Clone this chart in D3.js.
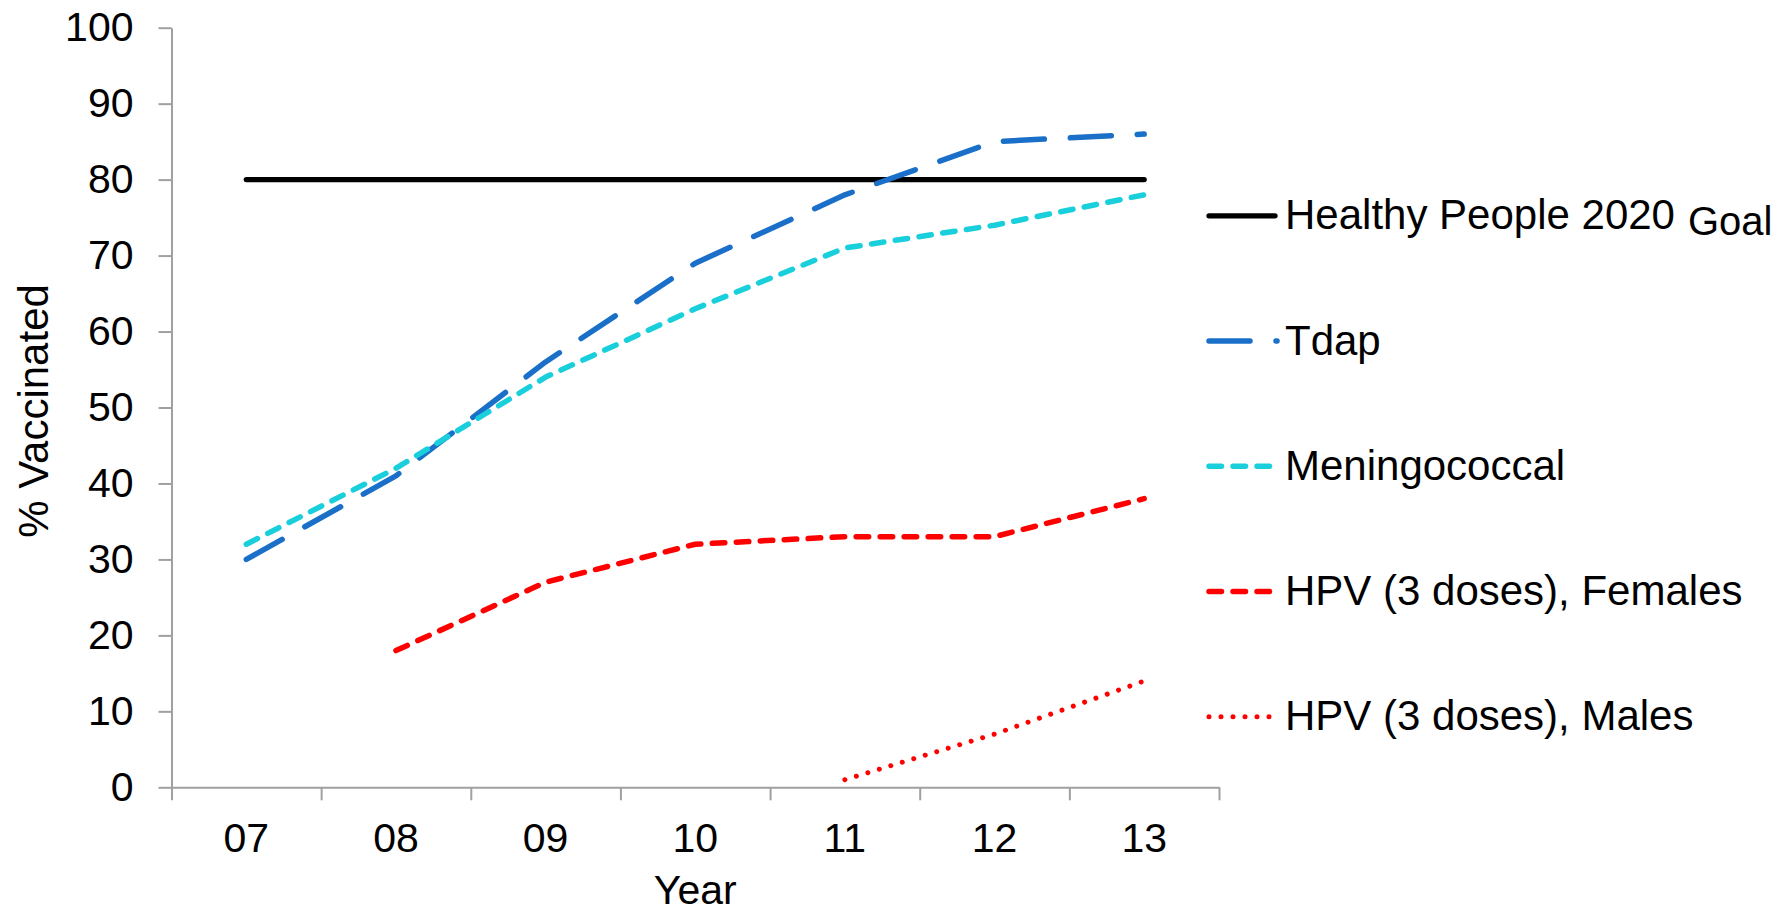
<!DOCTYPE html>
<html>
<head>
<meta charset="utf-8">
<script src="https://cdn.jsdelivr.net/npm/d3@7"></script>
<style>
  html, body { margin: 0; padding: 0; background: #fff; }
  svg { display: block; font-family: "Liberation Sans", Arial, sans-serif; }
</style>
</head>
<body>
<svg id="chart" width="1781" height="912"></svg>
<script>
// Survey years (two-digit labels) and vaccination coverage, percent
const years = ["07", "08", "09", "10", "11", "12", "13"];
const goal = [80, 80, 80, 80, 80, 80, 80];
const tdap = [30, 41, 56, 69, 78, 85, 86];
const meningococcal = [32, 42, 54, 63, 71, 74, 78];
const hpvFemales = [null, 18, 27, 32, 33, 33, 38];
const hpvMales = [null, null, null, null, 1, 7, 14];
const yTicks = [0, 10, 20, 30, 40, 50, 60, 70, 80, 90, 100];

const seriesNames = [
  "Healthy People 2020",
  "Tdap",
  "Meningococcal",
  "HPV (3 doses), Females",
  "HPV (3 doses), Males"
];

const svg = d3.select("#chart");

const plot = { left: 171.5, right: 1219, top: 27.7, bottom: 787.3 };

const x = d3.scaleBand().domain(years).range([plot.left, plot.right]).padding(0);
const xEdge = d3.scaleLinear().domain([0, years.length]).range([plot.left, plot.right]);
const y = d3.scaleLinear().domain([0, 100]).range([plot.bottom, plot.top]);

const axisColor = "#a0a0a0";

// Y axis
const yAxis = svg.append("g")
  .attr("transform", `translate(${plot.left},0)`)
  .call(d3.axisLeft(y).tickValues(yTicks).tickSize(13).tickPadding(25).tickSizeOuter(0));
yAxis.select(".domain").attr("stroke", axisColor).attr("stroke-width", 2);
yAxis.selectAll(".tick line").attr("stroke", axisColor).attr("stroke-width", 2);
yAxis.selectAll(".tick text")
  .attr("fill", "#000").attr("font-size", 41)
  .attr("font-family", "Liberation Sans, Arial, sans-serif");

// X axis: tick marks sit on the category boundaries
const xTicksAxis = svg.append("g")
  .attr("transform", `translate(0,${plot.bottom})`)
  .call(d3.axisBottom(xEdge).tickValues(d3.range(years.length + 1)).tickSize(13)
    .tickFormat("").tickSizeOuter(0));
xTicksAxis.select(".domain").attr("stroke", axisColor).attr("stroke-width", 2);
xTicksAxis.selectAll(".tick line").attr("stroke", axisColor).attr("stroke-width", 2);

// X axis labels centred in each category
const xLabels = svg.append("g")
  .attr("transform", `translate(0,${plot.bottom})`)
  .call(d3.axisBottom(x).tickSize(0).tickPadding(36));
xLabels.select(".domain").remove();
xLabels.selectAll(".tick text")
  .attr("fill", "#000").attr("font-size", 41)
  .attr("font-family", "Liberation Sans, Arial, sans-serif");

// Axis titles
svg.append("text")
  .attr("x", (plot.left + plot.right) / 2)
  .attr("y", 904)
  .attr("text-anchor", "middle")
  .attr("font-size", 41)
  .text("Year");

svg.append("text")
  .attr("transform", `translate(48,411) rotate(-90)`)
  .attr("text-anchor", "middle")
  .attr("font-size", 42)
  .text("% Vaccinated");

// Series styles
const styles = [
  { values: goal, color: "#000000", width: 5.3, dash: null },
  { values: tdap, color: "#1a70c8", width: 5.5, dash: "41,26" },
  { values: meningococcal, color: "#19cfdc", width: 5.5, dash: "12.5,11.5" },
  { values: hpvFemales, color: "#ff0000", width: 5.5, dash: "12.5,11.5" },
  { values: hpvMales, color: "#ff0000", width: 5, dash: "0.001,12" }
];

const cx = d => x(d) + x.bandwidth() / 2;

styles.forEach(s => {
  const pts = years.map((yr, i) => ({ yr, v: s.values[i] })).filter(p => p.v !== null);
  const line = d3.line()
    .x(p => cx(p.yr))
    .y(p => y(p.v));
  svg.append("path")
    .datum(pts)
    .attr("d", line)
    .attr("fill", "none")
    .attr("stroke", s.color)
    .attr("stroke-width", s.width)
    .attr("stroke-linecap", "round")
    .attr("stroke-linejoin", "round")
    .attr("stroke-dasharray", s.dash);
});

// Legend
const legendY = d3.scalePoint().domain(seriesNames).range([215.8, 716.7]);
const legend = svg.append("g");
seriesNames.forEach((name, i) => {
  const s = styles[i];
  const ly = legendY(name);
  legend.append("line")
    .attr("x1", 1209).attr("x2", i === 1 ? 1277 : 1275)
    .attr("y1", ly).attr("y2", ly)
    .attr("stroke", s.color)
    .attr("stroke-width", s.width)
    .attr("stroke-linecap", "round")
    .attr("stroke-dasharray", s.dash);
  legend.append("text")
    .attr("x", 1285)
    .attr("y", ly + 13.5)
    .attr("font-size", 42)
    .text(name);
});
// Second part of the first legend entry, set slightly lower
legend.append("text")
  .attr("x", 1688)
  .attr("y", legendY(seriesNames[0]) + 19)
  .attr("font-size", 40)
  .text("Goal");
</script>
</body>
</html>
